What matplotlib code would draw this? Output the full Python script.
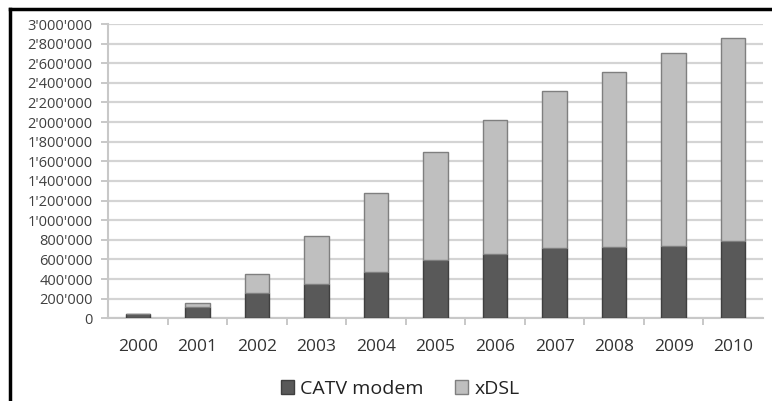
import matplotlib.pyplot as plt
from matplotlib.lines import Line2D
from matplotlib.ticker import FuncFormatter, MultipleLocator

# Werte aus dem Bild geschätzt
jahre = ["2000", "2001", "2002", "2003", "2004", "2005",
         "2006", "2007", "2008", "2009", "2010"]
catv = [44000, 118000, 258000, 347000, 475000, 597000,
        655000, 714000, 730000, 740000, 791000]
xdsl = [2000, 41000, 194000, 495000, 805000, 1095000,
        1369000, 1600000, 1784000, 1967000, 2069000]

plt.rcParams['font.family'] = ['Open Sans', 'DejaVu Sans']

fig = plt.figure(figsize=(7.72, 4.01), dpi=100)
ax = fig.add_axes([108 / 772, 1 - 318.3 / 401, 655 / 772, 294.3 / 401])

x = range(len(jahre))
ax.bar(x, catv, width=0.41, color='#595959', edgecolor='#3f3f3f',
       linewidth=1, label='CATV modem', zorder=3)
ax.bar(x, xdsl, width=0.41, bottom=catv, color='#bfbfbf', edgecolor='#7f7f7f',
       linewidth=1, label='xDSL', zorder=3)

ax.set_xlim(-0.5, len(jahre) - 0.5)
ax.set_ylim(0, 3000000)
ax.yaxis.set_major_locator(MultipleLocator(200000))
ax.yaxis.set_major_formatter(FuncFormatter(lambda v, p: f"{int(v):,}".replace(",", "'")))
ax.grid(axis='y', color='#d4d4d4', linewidth=1.6, zorder=0)

ax.set_xticks(list(x))
ax.set_xticklabels(jahre)
ax.set_xticks([i + 0.5 for i in range(len(jahre) - 1)], minor=True)
ax.tick_params(axis='x', which='major', length=0, pad=15, labelsize=12.5, labelcolor='#333333')
ax.tick_params(axis='x', which='minor', length=5, color='#bfbfbf', width=1.2)
ax.tick_params(axis='y', length=5, color='#bfbfbf', width=1.2, pad=6,
               labelsize=10.5, labelcolor='#404040')

for s in ['top', 'right']:
    ax.spines[s].set_visible(False)
for s in ['left', 'bottom']:
    ax.spines[s].set_color('#c8c8c8')
    ax.spines[s].set_linewidth(1.5)

ax.legend(loc='center', bbox_to_anchor=(400 / 772, 1 - 389 / 401),
          bbox_transform=fig.transFigure, ncol=2, frameon=False,
          fontsize=14, handlelength=0.7, handleheight=0.7,
          columnspacing=1.6, handletextpad=0.3, labelcolor='#222222')

# schwarzer Rahmen oben und links
fig.add_artist(Line2D([10 / 772, 1], [1 - 8.5 / 401, 1 - 8.5 / 401], color='black', linewidth=2.5))
fig.add_artist(Line2D([10 / 772, 10 / 772], [0, 1 - 8.5 / 401], color='black', linewidth=2.5))

plt.savefig("out.png", dpi=100)
